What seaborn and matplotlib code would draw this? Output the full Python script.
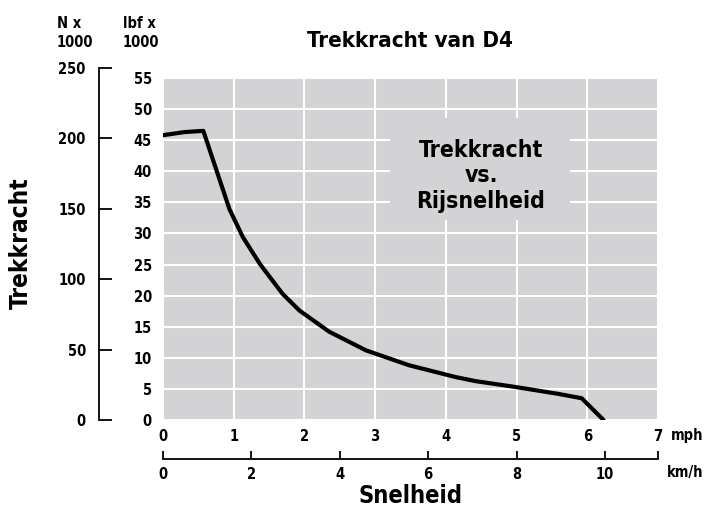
import matplotlib
matplotlib.use("Agg")
import matplotlib.pyplot as plt
import seaborn as sns
import pandas as pd
from matplotlib.patches import Rectangle

# ---- data ----
speed_mph = [0, 0.3, 0.57, 0.94, 1.13, 1.37, 1.69, 1.93, 2.35, 2.87, 3.48, 4.14, 4.42, 4.99, 5.59, 5.92, 6.23]
force_lbf = [45.8, 46.3, 46.5, 33.9, 29.4, 25.1, 20.3, 17.6, 14.2, 11.2, 8.8, 6.9, 6.25, 5.3, 4.2, 3.5, 0]
mph_ticks = [0, 1, 2, 3, 4, 5, 6, 7]
lbf_ticks = [0, 5, 10, 15, 20, 25, 30, 35, 40, 45, 50, 55]
kn_ticks = [0, 50, 100, 150, 200, 250]
kmh_ticks = [0, 2, 4, 6, 8, 10]
kmh_end = 11.2

title = "Trekkracht van D4"
box_lines = ["Trekkracht", "vs.", "Rijsnelheid"]
ylabel = "Trekkracht"
xlabel = "Snelheid"

sns.set_style("white")
plt.rcParams['font.family'] = ['DejaVu Sans']
plt.rcParams['font.stretch'] = 'condensed'
plt.rcParams['font.weight'] = 'bold'
plt.rcParams['text.color'] = 'black'
plt.rcParams['xtick.color'] = 'black'
plt.rcParams['ytick.color'] = 'black'

W, H = 705, 507
fig = plt.figure(figsize=(W / 100, H / 100), dpi=100)

def fx(px):
    return px / W

def fy(py):
    return 1 - py / H

GRAY = '#d3d3d5'
TICK_FS = 10.5
BIG = 16.5

# main axes
ax = fig.add_axes([fx(163), fy(420), fx(658) - fx(163), fy(78) - fy(420)])
ax.set_facecolor(GRAY)
df = pd.DataFrame({"mph": speed_mph, "lbf": force_lbf})
sns.lineplot(data=df, x="mph", y="lbf", ax=ax, color='black', linewidth=3.0, zorder=3, sort=False)
ax.set_xlim(mph_ticks[0], mph_ticks[-1])
ax.set_ylim(lbf_ticks[0], lbf_ticks[-1])
ax.set_xticks(mph_ticks)
ax.set_yticks(lbf_ticks)
ax.set_xticklabels([str(t) for t in mph_ticks])
ax.set_yticklabels([str(t) for t in lbf_ticks])
ax.grid(True, color='white', linewidth=1.5)
ax.set_axisbelow(True)
for s in ax.spines.values():
    s.set_visible(False)
ax.tick_params(axis='both', length=0, labelsize=TICK_FS)
ax.tick_params(axis='x', pad=6.5)
ax.tick_params(axis='y', pad=8)
ax.set_xlabel("")
ax.set_ylabel("")
# gray box behind annotation text
ax.add_patch(Rectangle((0.459, 0.585), 0.363, 0.298, transform=ax.transAxes,
                       facecolor=GRAY, edgecolor='none', zorder=1))

# kN axis
axn = fig.add_axes([fx(99), fy(420), 0.01, fy(68) - fy(420)])
axn.set_facecolor('none')
axn.set_ylim(kn_ticks[0], kn_ticks[-1])
axn.set_yticks(kn_ticks)
axn.set_yticklabels([str(t) for t in kn_ticks])
axn.set_xticks([])
for k in ['top', 'right', 'bottom']:
    axn.spines[k].set_visible(False)
axn.spines['left'].set_linewidth(1.3)
axn.spines['left'].set_color('black')
axn.tick_params(axis='y', left=True, direction='in', length=9, width=1.3, pad=9.5,
                labelsize=TICK_FS, colors='black')

# km/h axis
axk = fig.add_axes([fx(163), fy(459), fx(658) - fx(163), 0.001])
axk.set_facecolor('none')
axk.set_xlim(0, kmh_end)
axk.set_xticks(kmh_ticks + [kmh_end])
axk.set_xticklabels([str(t) for t in kmh_ticks] + [""])
axk.set_yticks([])
for k in ['top', 'right', 'left']:
    axk.spines[k].set_visible(False)
axk.spines['bottom'].set_linewidth(1.3)
axk.spines['bottom'].set_color('black')
axk.tick_params(axis='x', bottom=True, direction='in', length=5.5, width=1.3, pad=5.5,
                labelsize=TICK_FS, colors='black')

# texts
fig.text(fx(410), fy(47), title, ha='center', va='baseline', fontsize=16, fontweight='bold')
for txt, yb in zip(box_lines, [157, 182, 208]):
    fig.text(fx(481), fy(yb), txt, ha='center', va='baseline', fontsize=BIG, fontweight='bold')
fig.text(fx(21), fy(243), ylabel, ha='center', va='center', rotation=90, fontsize=17.5, fontweight='bold')
fig.text(fx(411), fy(503), xlabel, ha='center', va='baseline', fontsize=17, fontweight='bold')
fig.text(fx(57), fy(28), "N x", ha='left', va='baseline', fontsize=TICK_FS, fontweight='bold')
fig.text(fx(57), fy(47), "1000", ha='left', va='baseline', fontsize=TICK_FS, fontweight='bold')
fig.text(fx(123), fy(28), "lbf x", ha='left', va='baseline', fontsize=TICK_FS, fontweight='bold')
fig.text(fx(123), fy(47), "1000", ha='left', va='baseline', fontsize=TICK_FS, fontweight='bold')
fig.text(fx(703), fy(440), "mph", ha='right', va='baseline', fontsize=TICK_FS, fontweight='bold')
fig.text(fx(703), fy(477), "km/h", ha='right', va='baseline', fontsize=TICK_FS, fontweight='bold')

fig.savefig("out.png", dpi=100)
